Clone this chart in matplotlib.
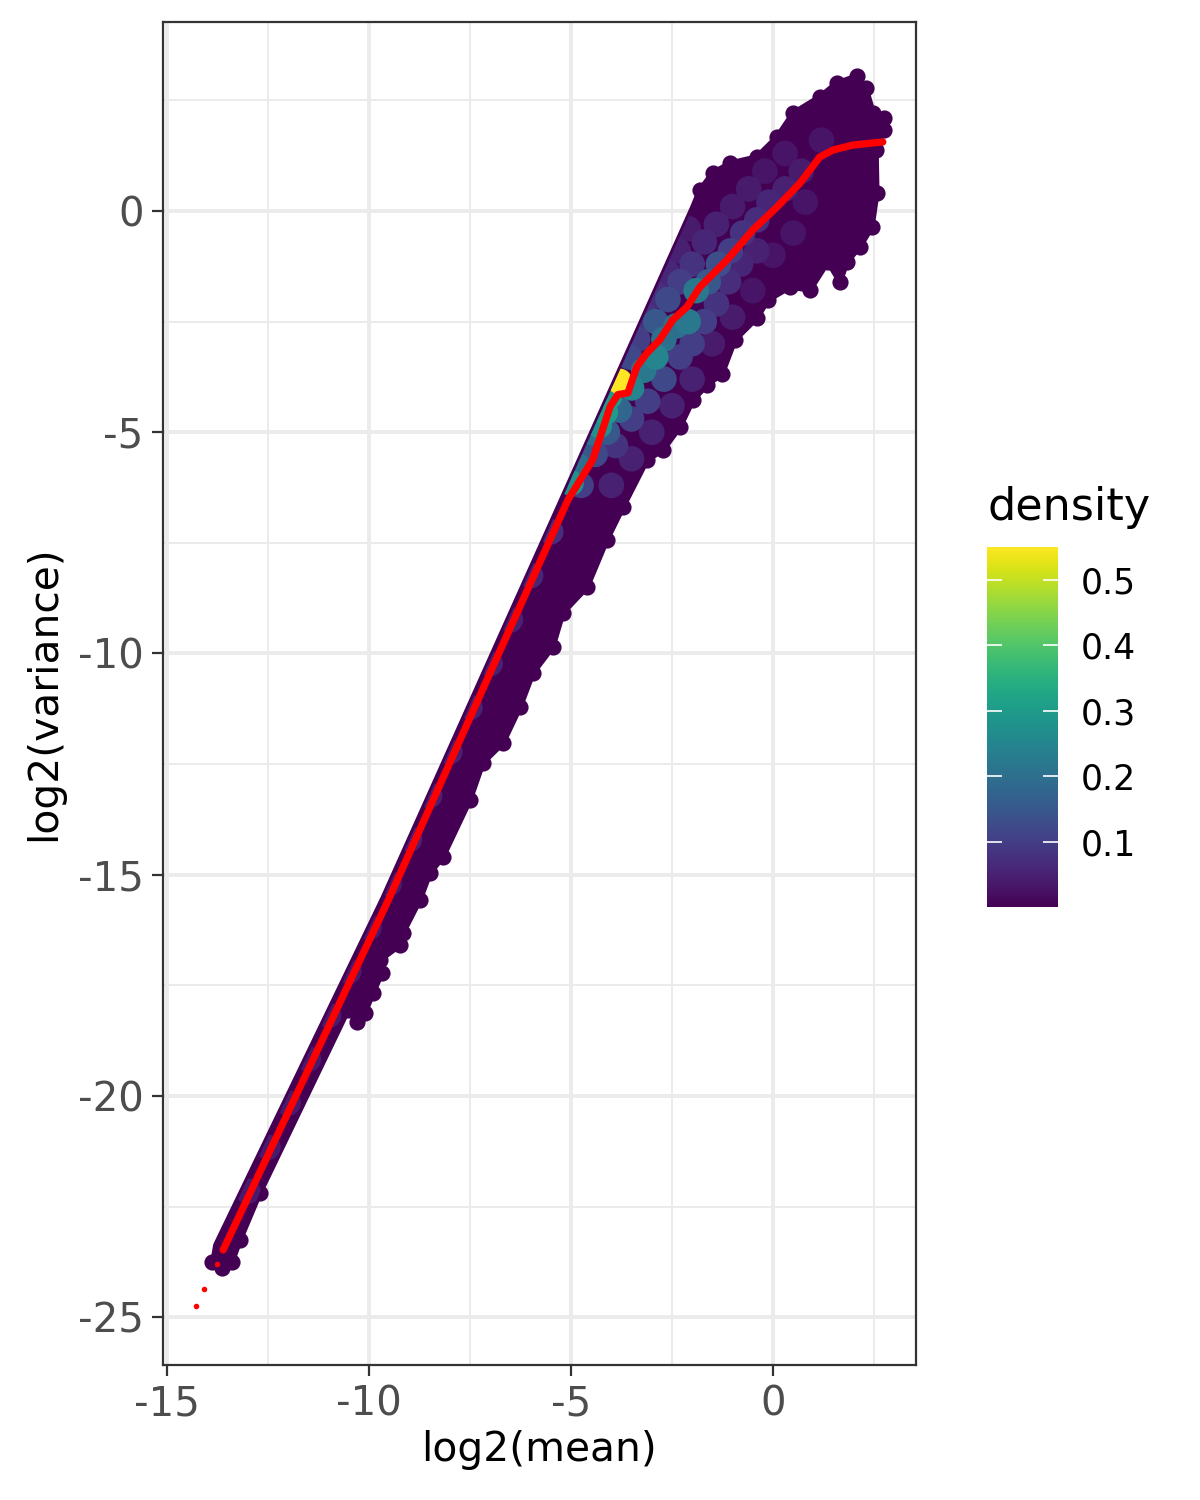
import numpy as np
import matplotlib
matplotlib.use("Agg")
import matplotlib.pyplot as plt
from matplotlib.patches import Polygon
from matplotlib.ticker import FixedLocator

# outline of the point cloud (log2 mean, log2 variance)
env_x = [-13.84, -13.79, -9.65, -1.98, -1.81, -1.49, -1.06, -0.40, 0.10, 0.50,
         1.16, 1.58, 2.08, 2.30, 2.48, 2.75, 2.75, 2.55, 2.57, 2.45,
         2.15, 1.83, 1.66, 1.36, 0.92, 0.42, -0.12, -0.40, -0.94, -1.26,
         -1.63, -1.98, -2.30, -2.72, -3.12, -3.71, -4.11, -4.60, -5.20, -5.45,
         -5.94, -6.26, -6.68, -7.18, -7.50, -8.17, -8.49, -8.74, -9.16, -9.23,
         -9.73, -9.68, -9.90, -10.10, -10.30, -10.52, -12.70, -13.19, -13.39, -13.64,
         -13.89]
env_y = [-23.64, -23.37, -15.53, 0.09, 0.47, 0.86, 1.08, 1.22, 1.67, 2.21,
         2.58, 2.89, 3.05, 2.78, 2.21, 2.10, 1.83, 1.38, 0.41, -0.36,
         -0.81, -1.15, -1.60, -1.15, -1.78, -1.72, -2.01, -2.42, -2.91, -3.68,
         -3.93, -4.27, -4.88, -5.40, -5.63, -6.69, -7.43, -8.50, -9.08, -9.85,
         -10.44, -11.21, -12.02, -12.47, -13.31, -14.60, -14.96, -15.57, -16.32, -16.59,
         -16.93, -17.22, -17.67, -18.12, -18.33, -18.06, -22.19, -23.25, -23.75, -23.89,
         -23.75]

# points with higher local density
dens_x = [
    # thin lower band, just under its top edge
    -13.0, -12.5, -12.0, -11.5, -11.0, -10.5, -10.0, -9.5, -9.0, -8.5,
    -8.0, -7.5, -7.0, -6.5, -6.0, -5.5,
    # top edge between -5 and -2
    -5.0, -4.85, -4.7, -4.5, -4.3, -4.15, -4.05, -3.55, -3.35, -3.1,
    -2.85, -2.6, -2.35, -2.1,
    # along the trend
    -4.75, -4.4, -4.1, -3.8, -3.5, -3.2, -2.9, -2.7, -2.4, -2.1,
    -1.9, -1.6, -1.35, -1.05, -0.75, -0.4, -0.1, 0.3, 0.7,
    # right of the trend
    -3.9, -3.5, -3.1, -2.7, -2.3, -2.0, -1.7, -1.4, -1.1, -0.8, -0.4,
    -4.0, -3.5, -3.0, -2.5, -2.0, -1.5, -1.0, -0.5, 0.0,
    # between the top edge and the trend
    -2.9, -2.6, -2.3, -2.0, -1.7, -1.4, -1.0, -0.6, -0.2, 0.3,
    # upper blob
    0.8, 1.2, 0.5,
    # bright spot
    -3.8]
dens_y = [
    -22.15, -21.16, -20.16, -19.17, -18.18, -17.18, -16.19, -15.20, -14.20, -13.21,
    -12.22, -11.22, -10.23, -9.24, -8.24, -7.25,
    -6.15, -5.75, -5.45, -5.0, -4.85, -4.55, -4.2, -3.3, -2.9, -2.4,
    -1.9, -1.4, -0.9, -0.4,
    -6.2, -5.5, -5.0, -4.5, -4.0, -3.6, -3.3, -2.9, -2.6, -2.5,
    -1.8, -1.6, -1.2, -0.9, -0.5, -0.2, 0.2, 0.5, 0.9,
    -5.3, -4.7, -4.3, -3.8, -3.3, -3.0, -2.5, -2.1, -1.6, -1.2, -0.9,
    -6.2, -5.6, -5.0, -4.4, -3.8, -3.0, -2.4, -1.8, -1.0,
    -2.5, -2.0, -1.6, -1.2, -0.7, -0.3, 0.1, 0.5, 0.9, 1.3,
    0.2, 1.6, -0.5,
    -3.85]
dens_v = [
    0.04, 0.04, 0.04, 0.04, 0.04, 0.04, 0.04, 0.04, 0.05, 0.05,
    0.05, 0.05, 0.05, 0.05, 0.06, 0.07,
    0.28, 0.20, 0.15, 0.20, 0.28, 0.30, 0.30, 0.12, 0.10, 0.08,
    0.07, 0.06, 0.05, 0.04,
    0.10, 0.12, 0.15, 0.18, 0.25, 0.22, 0.25, 0.20, 0.20, 0.22,
    0.22, 0.15, 0.13, 0.10, 0.08, 0.07, 0.06, 0.05, 0.04,
    0.08, 0.10, 0.10, 0.12, 0.10, 0.10, 0.10, 0.08, 0.07, 0.06, 0.05,
    0.05, 0.05, 0.05, 0.05, 0.05, 0.04, 0.04, 0.03, 0.03,
    0.15, 0.12, 0.10, 0.08, 0.06, 0.05, 0.04, 0.04, 0.03, 0.03,
    0.03, 0.03, 0.03,
    0.55]

# fitted mean-variance trend
trend_x = [-13.61, -13.02, -10.69, -9.52, -6.63, -5.07, -4.46, -4.03, -3.84, -3.59,
           -3.37, -3.12, -2.80, -2.48, -2.13, -1.81, -1.14, -0.50, 0.10, 0.67,
           1.16, 1.49, 1.98, 2.72]
trend_y = [-23.48, -22.34, -17.83, -15.57, -9.68, -6.52, -5.62, -4.42, -4.15, -4.11,
           -3.52, -3.21, -2.91, -2.46, -2.17, -1.72, -1.11, -0.43, 0.09, 0.63,
           1.22, 1.38, 1.49, 1.56]
tail_x = [-14.28, -14.08, -13.76]
tail_y = [-24.75, -24.36, -23.80]

x_ticks = [-15, -10, -5, 0]
y_ticks = [-25, -20, -15, -10, -5, 0]
cbar_ticks = [0.1, 0.2, 0.3, 0.4, 0.5]

cmap = plt.get_cmap("viridis")
vmax = 0.55

fig = plt.figure(figsize=(6, 7.5), dpi=200)
ax = fig.add_axes([0.1358, 0.09, 0.6275, 0.8953])

ax.set_xlim(-15.10, 3.54)
ax.set_ylim(-26.08, 4.27)

env = Polygon(list(zip(env_x, env_y)), closed=True, facecolor=cmap(0.0),
              edgecolor=cmap(0.0), linewidth=2.0, joinstyle="round", zorder=2)
ax.add_patch(env)
# round off the bumpy outer edge with single points (not the straight top edge)
ax.scatter(env_x[4:], env_y[4:], color=cmap(0.0), s=34, linewidths=0, zorder=2)

order = np.argsort(dens_v)
sc = ax.scatter(np.array(dens_x)[order], np.array(dens_y)[order],
                c=np.array(dens_v)[order], cmap=cmap, vmin=0, vmax=vmax,
                s=85, linewidths=0, zorder=3)
sc.set_clip_path(env)

ax.plot(trend_x, trend_y, color="red", lw=2.6, solid_capstyle="round",
        solid_joinstyle="round", zorder=4)
ax.scatter(tail_x, tail_y, color="red", s=4, linewidths=0, zorder=4)

# theme_bw look
ax.set_axisbelow(True)
ax.xaxis.set_major_locator(FixedLocator(x_ticks))
ax.yaxis.set_major_locator(FixedLocator(y_ticks))
ax.xaxis.set_minor_locator(FixedLocator([-12.5, -7.5, -2.5, 2.5]))
ax.yaxis.set_minor_locator(FixedLocator([-22.5, -17.5, -12.5, -7.5, -2.5, 2.5]))
ax.set_xticklabels([str(t) for t in x_ticks])
ax.set_yticklabels([str(t) for t in y_ticks])
ax.grid(which="major", color="#ebebeb", lw=1.4)
ax.grid(which="minor", color="#ebebeb", lw=0.7)
ax.tick_params(which="minor", length=0)
ax.tick_params(which="major", length=4, width=0.8, color="#333333",
               labelcolor="#4d4d4d", labelsize=14.5, pad=3)
for s in ax.spines.values():
    s.set_color("#333333")
    s.set_linewidth(0.8)

ax.set_xlabel("log2(mean)", fontsize=14.7, labelpad=2)
ax.set_ylabel("log2(variance)", fontsize=14.7, labelpad=5)

# colourbar legend
cax = fig.add_axes([0.8225, 0.3953, 0.0592, 0.24])
cb = fig.colorbar(sc, cax=cax, ticks=cbar_ticks)
cb.outline.set_visible(False)
cb.ax.set_yticklabels([f"{t:.1f}" for t in cbar_ticks])
cax.tick_params(axis="y", direction="in", length=5.4, width=0.6, color="white",
                left=True, right=True, labelsize=12.5, pad=8)
fig.text(0.8225, 0.6533, "density", fontsize=16, ha="left", va="baseline")

fig.savefig("out.png", dpi=200)
